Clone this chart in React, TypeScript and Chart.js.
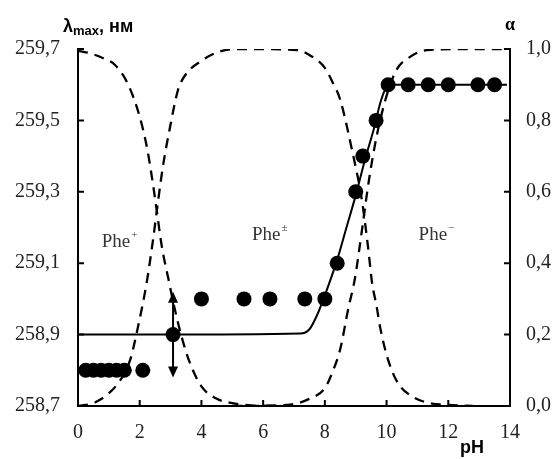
import React, { useEffect, useRef } from "react";
import { Chart, registerables } from "chart.js";

Chart.register(...registerables);

// Axis ticks
const PH_TICKS = [0, 2, 4, 6, 8, 10, 12, 14];
const LAMBDA_TICKS = [258.7, 258.9, 259.1, 259.3, 259.5, 259.7];
const ALPHA_TICKS = [0, 0.2, 0.4, 0.6, 0.8, 1.0];

// Experimental points (λmax vs pH)
const EXP_PH = [0.25, 0.5, 0.75, 1.0, 1.25, 1.5, 2.1, 3.08, 4.0, 5.38, 6.22, 7.35, 8.0, 8.4, 9.0, 9.23, 9.66, 10.05, 10.7, 11.35, 12.0, 12.96, 13.5];
const EXP_LAMBDA = [258.8, 258.8, 258.8, 258.8, 258.8, 258.8, 258.8, 258.9, 259.0, 259.0, 259.0, 259.0, 259.0, 259.1, 259.3, 259.4, 259.5, 259.6, 259.6, 259.6, 259.6, 259.6, 259.6];

// Fitted curve (solid)
const FIT_PH = [0, 2.5, 7.2, 7.5, 7.75, 8.0, 8.4, 8.7, 9.0, 9.3, 9.6, 9.8, 9.95, 10.15, 13.9];
const FIT_LAMBDA = [258.9, 258.9, 258.903, 258.915, 258.955, 259.01, 259.11, 259.2, 259.29, 259.39, 259.48, 259.55, 259.585, 259.6, 259.6];

// Error bar at pH 3
const ERR_PH = [3.08];
const ERR_LOW = [258.78];
const ERR_HIGH = [259.02];

// Species distribution (α)
const CATION_PH = [0, 0.3, 0.8, 1.2, 1.6, 2.0, 2.25, 2.5, 2.72, 2.92, 3.14, 3.37, 3.63, 4.0, 4.5, 5.0, 5.6, 6.5];
const CATION_ALPHA = [0.995, 0.99, 0.975, 0.955, 0.905, 0.81, 0.717, 0.58, 0.445, 0.36, 0.27, 0.19, 0.12, 0.055, 0.02, 0.008, 0.002, 0];

const ZWITTER_PH = [0, 0.55, 1.3, 1.69, 1.94, 2.24, 2.43, 2.6, 2.75, 2.98, 3.24, 3.5, 3.95, 4.5, 5.15, 7.1, 7.5, 8.0, 8.26, 8.49, 8.88, 9.2, 9.4, 9.53, 9.68, 9.79, 10.05, 10.37, 10.86, 11.4, 12.0, 12.8];
const ZWITTER_ALPHA = [0, 0.01, 0.064, 0.129, 0.22, 0.353, 0.465, 0.577, 0.67, 0.78, 0.885, 0.93, 0.964, 0.99, 1.0, 0.997, 0.983, 0.947, 0.905, 0.86, 0.717, 0.577, 0.445, 0.345, 0.278, 0.221, 0.129, 0.064, 0.025, 0.008, 0.003, 0];

const ANION_PH = [5.0, 6.77, 7.5, 8.0, 8.27, 8.5, 8.75, 8.98, 9.15, 9.46, 9.79, 10.27, 10.8, 11.31, 12.5, 13.8];
const ANION_ALPHA = [0, 0.003, 0.02, 0.05, 0.1, 0.16, 0.269, 0.36, 0.46, 0.65, 0.8, 0.933, 0.98, 0.997, 1.0, 1.0];

// Species labels
const SPECIES_NAMES = ["Phe", "Phe", "Phe"];
const SPECIES_CHARGES = ["+", "±", "−"];
const SPECIES_AT_PH = [1.33, 6.2, 11.6];
const SPECIES_AT_ALPHA = [0.465, 0.485, 0.485];

const SERIF = "'Liberation Serif', 'Times New Roman', serif";
const SANS = "'Liberation Sans', Arial, sans-serif";

const toPts = (xs: number[], ys: number[]) => xs.map((x, i) => ({ x, y: ys[i] }));
const comma = (v: number) => Number(v).toFixed(1).replace(".", ",");

const decorPlugin = {
  id: "decor",
  afterDatasetsDraw(chart: any) {
    const { ctx, chartArea, scales } = chart;
    const xs = scales.x, ys = scales.y, ys1 = scales.y1;
    ctx.save();
    ctx.strokeStyle = "#000";
    ctx.fillStyle = "#000";
    ctx.lineWidth = 2;
    // inward tick marks
    ctx.beginPath();
    PH_TICKS.forEach((v) => {
      const px = xs.getPixelForValue(v);
      ctx.moveTo(px, chartArea.bottom);
      ctx.lineTo(px, chartArea.bottom - 6);
    });
    LAMBDA_TICKS.forEach((v) => {
      const py = ys.getPixelForValue(v);
      ctx.moveTo(chartArea.left, py);
      ctx.lineTo(chartArea.left + 6, py);
    });
    ALPHA_TICKS.forEach((v) => {
      const py = ys1.getPixelForValue(v);
      ctx.moveTo(chartArea.right, py);
      ctx.lineTo(chartArea.right - 6, py);
    });
    ctx.stroke();

    // error bars with arrowheads
    ERR_PH.forEach((p, i) => {
      const px = xs.getPixelForValue(p);
      const pl = ys.getPixelForValue(ERR_LOW[i]);
      const ph = ys.getPixelForValue(ERR_HIGH[i]);
      ctx.beginPath();
      ctx.moveTo(px, pl - 8);
      ctx.lineTo(px, ph + 8);
      ctx.stroke();
      ctx.beginPath();
      ctx.moveTo(px, ph);
      ctx.lineTo(px - 5, ph + 11);
      ctx.lineTo(px + 5, ph + 11);
      ctx.closePath();
      ctx.fill();
      ctx.beginPath();
      ctx.moveTo(px, pl);
      ctx.lineTo(px - 5, pl - 11);
      ctx.lineTo(px + 5, pl - 11);
      ctx.closePath();
      ctx.fill();
    });

    // species labels
    ctx.fillStyle = "#333";
    ctx.textBaseline = "alphabetic";
    SPECIES_NAMES.forEach((name, i) => {
      const cx = xs.getPixelForValue(SPECIES_AT_PH[i]);
      const cy = ys1.getPixelForValue(SPECIES_AT_ALPHA[i]);
      ctx.font = `19px ${SERIF}`;
      const w1 = ctx.measureText(name).width;
      ctx.font = `11px ${SERIF}`;
      const w2 = ctx.measureText(SPECIES_CHARGES[i]).width;
      const x0 = cx - (w1 + w2) / 2;
      ctx.font = `19px ${SERIF}`;
      ctx.fillText(name, x0, cy + 7);
      ctx.font = `11px ${SERIF}`;
      ctx.fillText(SPECIES_CHARGES[i], x0 + w1 + 1, cy - 2);
    });

    // axis titles
    ctx.fillStyle = "#000";
    const tx = chartArea.left - 15;
    const ty = chartArea.top - 17;
    ctx.font = `bold 18px ${SANS}`;
    ctx.fillText("λ", tx, ty);
    let w = ctx.measureText("λ").width;
    ctx.font = `bold 13px ${SANS}`;
    ctx.fillText("max", tx + w, ty + 3);
    w += ctx.measureText("max").width;
    ctx.font = `bold 18px ${SANS}`;
    ctx.fillText(", нм", tx + w, ty);

    ctx.font = `bold 18px ${SERIF}`;
    ctx.fillText("α", chartArea.right - 5, chartArea.top - 19);

    ctx.font = `bold 18px ${SANS}`;
    ctx.fillText("pH", chartArea.right - 50, chartArea.bottom + 47);
    ctx.restore();
  },
};

export default function App() {
  const ref = useRef<HTMLCanvasElement | null>(null);
  useEffect(() => {
    if (!ref.current) return;
    const dashed = {
      type: "line" as const,
      yAxisID: "y1",
      borderColor: "#000",
      borderWidth: 2.3,
      borderDash: [10, 7],
      pointRadius: 0,
      cubicInterpolationMode: "monotone" as const,
      fill: false,
      order: 3,
    };
    const chart = new Chart(ref.current, {
      type: "line",
      data: {
        datasets: [
          {
            type: "scatter",
            data: toPts(EXP_PH, EXP_LAMBDA),
            yAxisID: "y",
            backgroundColor: "#000",
            borderColor: "#000",
            borderWidth: 0,
            pointRadius: 7.5,
            pointHoverRadius: 7.5,
            showLine: false,
            order: 0,
          } as any,
          {
            type: "line",
            data: toPts(FIT_PH, FIT_LAMBDA),
            yAxisID: "y",
            borderColor: "#000",
            borderWidth: 2,
            pointRadius: 0,
            cubicInterpolationMode: "monotone",
            fill: false,
            order: 1,
          } as any,
          { ...dashed, data: toPts(CATION_PH, CATION_ALPHA) } as any,
          { ...dashed, data: toPts(ZWITTER_PH, ZWITTER_ALPHA) } as any,
          { ...dashed, data: toPts(ANION_PH, ANION_ALPHA) } as any,
        ],
      },
      options: {
        animation: false,
        responsive: false,
        maintainAspectRatio: false,
        layout: { padding: { top: 49, left: 0, right: 0, bottom: 0 } },
        plugins: { legend: { display: false }, tooltip: { enabled: false } },
        scales: {
          x: {
            type: "linear",
            min: 0,
            max: 14,
            afterBuildTicks: (s: any) => {
              s.ticks = PH_TICKS.map((v) => ({ value: v }));
            },
            afterFit: (s: any) => {
              s.height = 53;
            },
            grid: { display: false, drawTicks: false },
            border: { display: true, color: "#000", width: 2 },
            ticks: {
              color: "#222",
              font: { family: SERIF, size: 20 },
              padding: 15,
              maxRotation: 0,
              autoSkip: false,
              callback: (v: any) => String(v),
            },
          },
          y: {
            type: "linear",
            position: "left",
            min: 258.7,
            max: 259.7,
            afterBuildTicks: (s: any) => {
              s.ticks = LAMBDA_TICKS.map((v) => ({ value: v }));
            },
            afterFit: (s: any) => {
              s.width = 78;
            },
            grid: { display: false, drawTicks: false },
            border: { display: true, color: "#000", width: 2 },
            ticks: {
              color: "#222",
              font: { family: SERIF, size: 20 },
              padding: 18,
              autoSkip: false,
              callback: (v: any) => comma(v),
            },
          },
          y1: {
            type: "linear",
            position: "right",
            min: 0,
            max: 1,
            afterBuildTicks: (s: any) => {
              s.ticks = ALPHA_TICKS.map((v) => ({ value: v }));
            },
            afterFit: (s: any) => {
              s.width = 50;
            },
            grid: { display: false, drawTicks: false },
            border: { display: true, color: "#000", width: 2 },
            ticks: {
              color: "#222",
              font: { family: SERIF, size: 20 },
              padding: 16,
              autoSkip: false,
              callback: (v: any) => comma(v),
            },
          },
        },
      },
      plugins: [decorPlugin],
    });
    return () => chart.destroy();
  }, []);

  return (
    <div style={{ position: "fixed", left: 0, top: 0, width: 560, height: 459, background: "#fff" }}>
      <canvas ref={ref} width={560} height={459} style={{ width: 560, height: 459, display: "block" }} />
    </div>
  );
}
